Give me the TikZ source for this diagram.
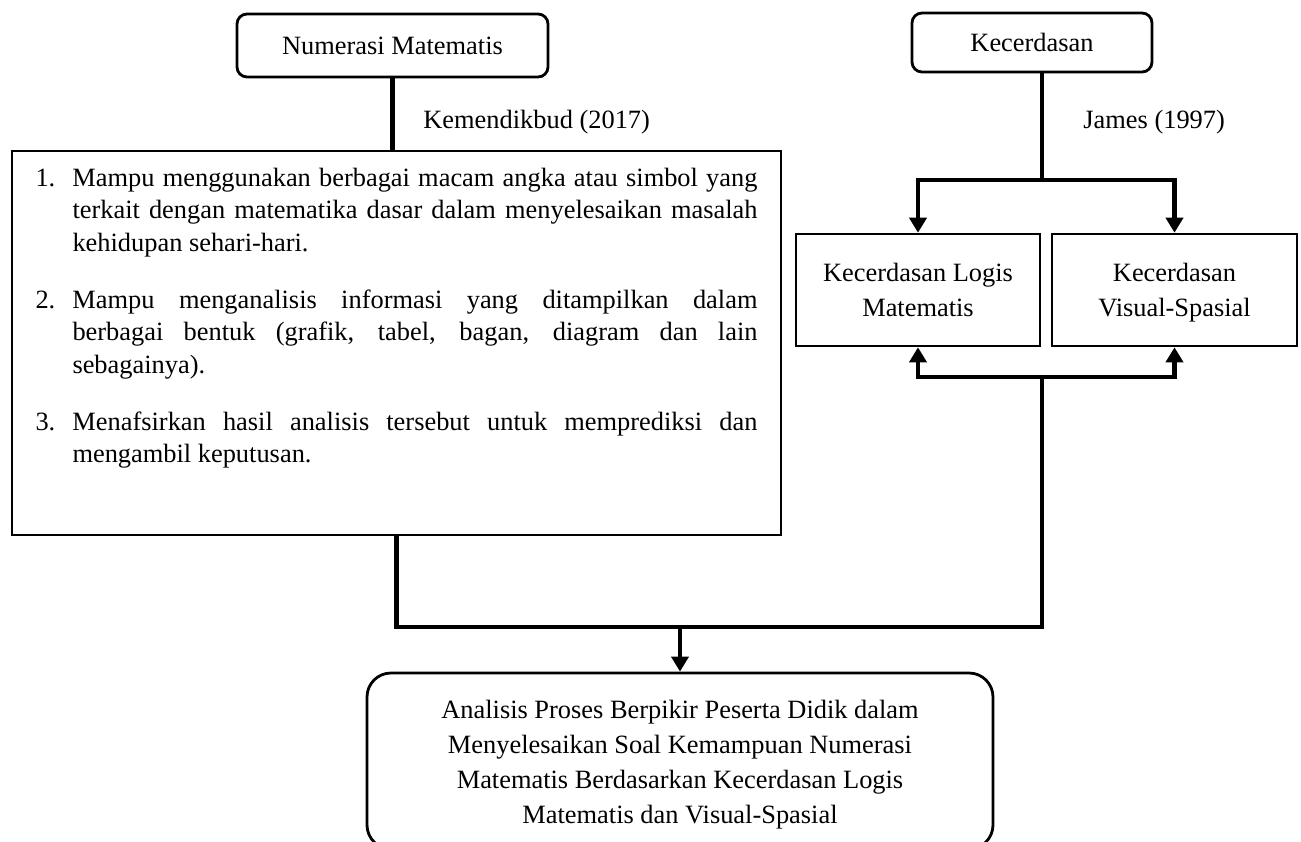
\documentclass[tikz,border=0pt]{standalone}
\usepackage{fontspec}
\setmainfont{Liberation Serif}
\usetikzlibrary{arrows.meta}

\newcommand{\butir}[2]{\hangindent=18.5pt\hangafter=1\noindent\makebox[18.5pt][l]{#1}#2\par}

\begin{document}
\begin{tikzpicture}[x=0.5pt,y=-0.5pt,
        txt/.style={font=\fontsize{13.2pt}{17.5pt}\selectfont},
        rbox/.style={txt,draw,line width=1.4pt,rounded corners=5pt,align=center},
        sbox/.style={txt,draw,line width=1.3pt,align=center},
        conn/.style={line width=2.2pt},
        arr/.style={conn,-{Triangle[width=8.5pt,length=7.5pt]}}]
        \useasboundingbox (0,0) rectangle (1301,841);
        \node[rbox,minimum width=155.5pt,minimum height=31.5pt] (numerasi) at (392.5,45.5) {Numerasi Matematis};
        \node[rbox,minimum width=120pt,minimum height=29.5pt] (kecerdasan) at (1032,42.5) {Kecerdasan};
        \node[sbox,inner xsep=11.75pt,inner ysep=8.5pt] (indikator) at (396.5,343) {\begin{minipage}[c][175pt][t]{361pt}
            \fontsize{13.2pt}{16.25pt}\selectfont\setlength{\parskip}{12.25pt}
            \spaceskip=3.3pt plus 8pt\xspaceskip=3.3pt plus 8pt
            \hyphenpenalty=10000\exhyphenpenalty=10000\tolerance=10000
            \butir{1.}{Mampu menggunakan berbagai macam angka atau simbol yang terkait dengan matematika dasar dalam menyelesaikan masalah kehidupan sehari-hari.}
            \butir{2.}{Mampu menganalisis informasi yang ditampilkan dalam berbagai bentuk (grafik, tabel, bagan, diagram dan lain sebagainya).}
            \butir{3.}{Menafsirkan hasil analisis tersebut untuk memprediksi dan mengambil keputusan.}
        \end{minipage}};
        \node[sbox,minimum width=122pt,minimum height=56pt] (logis) at (918,290) {Kecerdasan Logis\\Matematis};
        \node[sbox,minimum width=122.5pt,minimum height=56pt] (visual) at (1174.5,290) {Kecerdasan\strut\\Visual-Spasial};
        \node[rbox,rounded corners=12pt,minimum width=313pt,minimum height=88pt] (analisis) at (680,761) {\rule{0pt}{13pt}Analisis Proses Berpikir Peserta Didik dalam\\Menyelesaikan Soal Kemampuan Numerasi\\Matematis Berdasarkan Kecerdasan Logis\\Matematis dan Visual-Spasial};
        \node[txt,anchor=west,inner sep=0pt] (kemendikbud) at (423,122) {Kemendikbud (2017)};
        \node[txt,anchor=west,inner sep=0pt] (james) at (1083,122) {James (1997)};
        \coordinate (split) at (1042,180);
        \coordinate (join) at (1042,377);
        \coordinate (merge) at (1042,627);
        \draw[conn] (numerasi.south) -- (numerasi.south |- indikator.north);
        \draw[conn] (kecerdasan.south -| split) -- (split);
        \draw[arr] (split) -| (logis.north);
        \draw[arr] (split) -| (visual.north);
        \draw[arr] (join) -| (logis.south);
        \draw[arr] (join) -| (visual.south);
        \draw[conn] (join) -- (merge) -- (merge -| indikator.south) -- (indikator.south);
        \draw[arr] (merge -| analisis.north) -- (analisis.north);
    \end{tikzpicture}
\end{document}
